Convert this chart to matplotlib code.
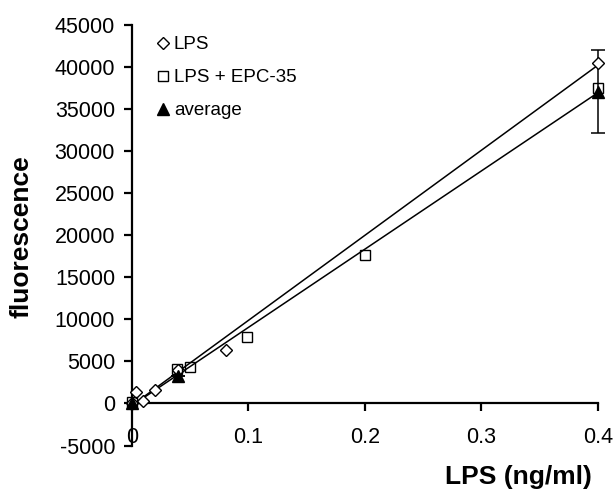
import matplotlib
matplotlib.use("Agg")
import matplotlib.pyplot as plt
import numpy as np

plt.rcParams['font.family'] = ['Liberation Sans', 'DejaVu Sans']

# Data
lps_x = [0.0, 0.0034, 0.0094, 0.0197, 0.040, 0.081, 0.40]
lps_y = [0, 1400, 250, 1650, 4000, 6400, 40500]

epc_x = [0.0, 0.039, 0.050, 0.099, 0.20, 0.40]
epc_y = [150, 4100, 4350, 7950, 17650, 37450]

avg_x = [0.0, 0.040, 0.40]
avg_y = [0, 3300, 37080]
avg_err = [0, 0, 4900]

xticks = [0, 0.1, 0.2, 0.3, 0.4]
xticklabels = ['0', '0.1', '0.2', '0.3', '0.4']
yticks = list(range(-5000, 45001, 5000))

fig = plt.figure(figsize=(6.13, 5.0), dpi=100)
ax = fig.add_axes([131.7/613, 1-445.5/500, (597.7-131.7)/613, (445.5-25)/500])

# Trend lines (linear fits of each series)
xfit = np.array([0.0, 0.4])
p1 = np.polyfit(lps_x, lps_y, 1)
p2 = np.polyfit(epc_x, epc_y, 1)
ax.plot(xfit, np.polyval(p1, xfit), color='black', lw=1.1, zorder=2, clip_on=False)
ax.plot(xfit, np.polyval(p2, xfit), color='black', lw=1.1, zorder=2, clip_on=False)

eb = ax.errorbar(avg_x, avg_y, yerr=avg_err, fmt='none', ecolor='black',
                 elinewidth=1.1, capsize=5, capthick=1.1, zorder=3)
for art in eb.lines[1] + eb.lines[2]:
    art.set_clip_on(False)
ax.plot(lps_x, lps_y, linestyle='none', marker='D', ms=6.5, mfc='white',
        mec='black', mew=1.0, label='LPS', zorder=4, clip_on=False)
ax.plot(epc_x, epc_y, linestyle='none', marker='s', ms=7.5, mfc='none',
        mec='black', mew=1.0, label='LPS + EPC-35', zorder=4, clip_on=False)
ax.plot(avg_x, avg_y, linestyle='none', marker='^', ms=8, mfc='black',
        mec='black', label='average', zorder=5, clip_on=False)

ax.set_xlim(0, 0.4)
ax.set_ylim(-5000, 45000)
ax.set_xticks(xticks)
ax.set_xticklabels(xticklabels)
ax.set_yticks(yticks)
ax.set_yticklabels([str(v) for v in yticks])

for s in ['top', 'right']:
    ax.spines[s].set_visible(False)
ax.spines['bottom'].set_position(('data', 0))
ax.spines['left'].set_linewidth(1.6)
ax.spines['bottom'].set_linewidth(1.6)

ax.tick_params(axis='both', direction='out', length=6, width=1.6,
               labelsize=15.5, colors='black')
ax.tick_params(axis='x', pad=11)
ax.tick_params(axis='y', pad=6)

fig.text(22/613, 1-237/500, 'fluorescence', rotation=90, fontsize=19,
         fontweight='bold', ha='center', va='center')
fig.text(518/613, 1-477/500, 'LPS (ng/ml)', fontsize=19,
         fontweight='bold', ha='center', va='center')

leg = ax.legend(loc='upper left', bbox_to_anchor=(156/613, 1-36/500),
                bbox_transform=fig.transFigure, frameon=False, fontsize=13.5,
                handlelength=0.7, handletextpad=0.25, labelspacing=0.85,
                borderpad=0, borderaxespad=0, numpoints=1)

fig.savefig('out.png', dpi=100)
